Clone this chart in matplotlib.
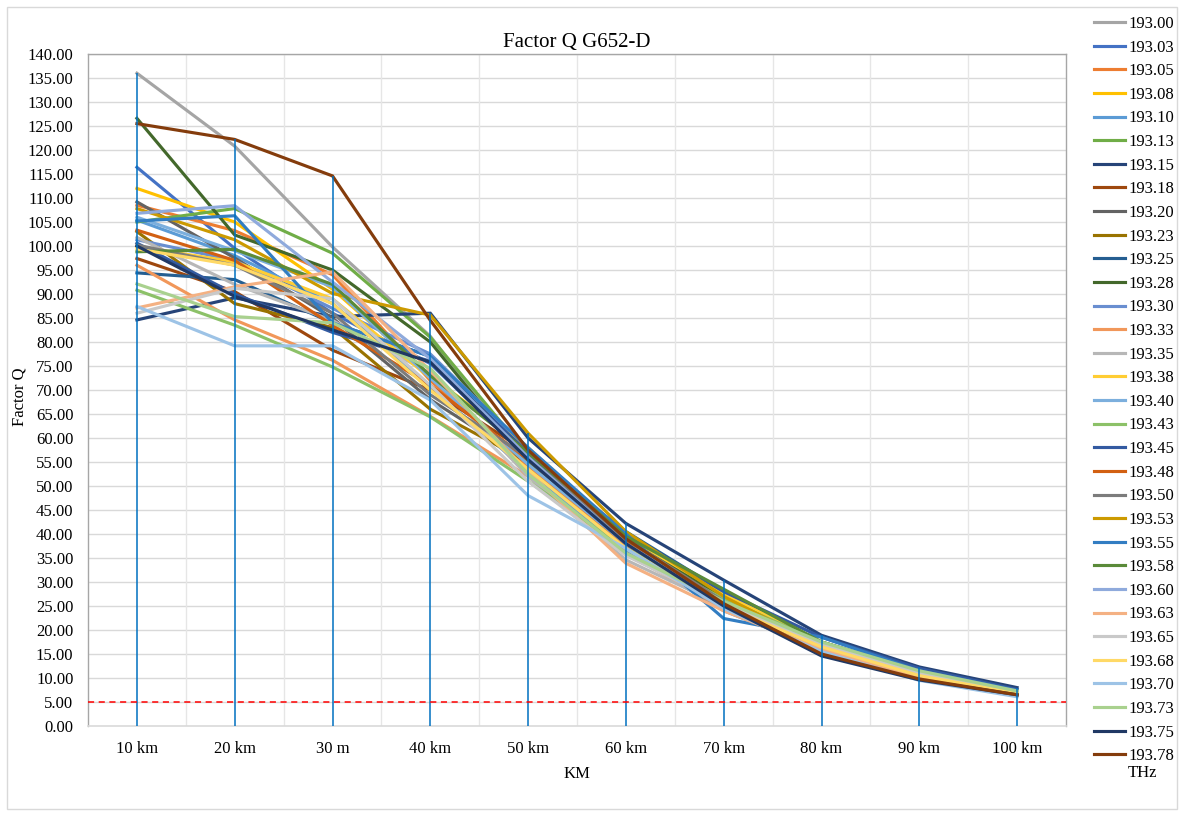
import numpy as np
import matplotlib
matplotlib.use('Agg')
import matplotlib.pyplot as plt
from matplotlib.patches import Rectangle

plt.rcParams['font.family'] = ['Liberation Serif', 'DejaVu Serif']

# Distances (tick labels as in the original, including the "30 m" typo)
distances = ['10 km', '20 km', '30 m', '40 km', '50 km', '60 km', '70 km', '80 km', '90 km', '100 km']

# Channel frequencies (THz)
freqs = ['193.00', '193.03', '193.05', '193.08', '193.10', '193.13', '193.15', '193.18',
         '193.20', '193.23', '193.25', '193.28', '193.30', '193.33', '193.35', '193.38',
         '193.40', '193.43', '193.45', '193.48', '193.50', '193.53', '193.55', '193.58',
         '193.60', '193.63', '193.65', '193.68', '193.70', '193.73', '193.75', '193.78']

colors = ['#A5A5A5', '#4472C4', '#ED7D31', '#FFC000', '#5B9BD5', '#70AD47', '#264478', '#9E480E',
          '#636363', '#997300', '#255E91', '#43682B', '#698ED0', '#F1975A', '#B7B7B7', '#FFCD33',
          '#7CAFDD', '#8CC168', '#335AA1', '#D26012', '#7C7C7C', '#CC9A00', '#327DC2', '#5A8A39',
          '#8FAADC', '#F4B183', '#C9C9C9', '#FFD966', '#9DC3E6', '#A9D18E', '#203864', '#843C0C']

# Factor Q per channel, one value per distance
q_19300 = [136.0, 120.8, 99.8, 81.2, 55.0, 36.5, 25.0, 16.5, 10.8, 7.0]
q_19303 = [116.4, 99.5, 86.0, 75.5, 56.0, 39.0, 26.0, 17.5, 11.5, 7.5]
q_19305 = [108.5, 103.2, 94.0, 72.0, 54.0, 37.5, 25.0, 16.0, 10.2, 6.8]
q_19308 = [112.0, 105.0, 91.0, 73.0, 57.5, 40.0, 27.0, 17.0, 10.5, 6.9]
q_19310 = [105.4, 98.0, 88.0, 70.5, 53.0, 36.5, 24.0, 16.0, 10.0, 6.6]
q_19313 = [105.0, 107.8, 98.5, 81.0, 56.5, 39.5, 28.0, 17.5, 11.0, 7.2]
q_19315 = [84.6, 89.2, 85.3, 86.0, 60.0, 42.2, 30.4, 18.9, 12.3, 8.0]
q_19318 = [97.4, 90.5, 78.3, 70.0, 57.0, 40.0, 26.0, 15.0, 9.8, 6.4]
q_19320 = [109.2, 97.5, 85.0, 68.0, 55.0, 38.0, 25.5, 16.0, 10.2, 6.6]
q_19323 = [103.0, 88.0, 83.0, 66.0, 55.0, 39.0, 26.5, 16.5, 10.5, 6.8]
q_19325 = [94.4, 93.0, 84.0, 77.0, 56.0, 40.5, 28.0, 17.0, 11.0, 7.1]
q_19328 = [126.6, 102.3, 95.0, 80.0, 55.0, 39.0, 27.0, 17.0, 11.0, 7.0]
q_19330 = [101.3, 97.0, 87.0, 77.5, 57.5, 38.5, 26.0, 17.0, 10.8, 7.0]
q_19333 = [96.0, 84.6, 76.2, 64.5, 52.0, 36.0, 24.5, 15.5, 10.0, 6.5]
q_19335 = [101.8, 92.0, 84.5, 73.5, 52.0, 34.6, 25.0, 16.0, 10.2, 6.6]
q_19338 = [99.9, 96.7, 89.0, 72.5, 58.0, 39.5, 27.5, 17.5, 11.0, 7.0]
q_19340 = [106.0, 99.0, 91.5, 72.5, 54.5, 38.0, 25.5, 16.5, 10.5, 6.8]
q_19343 = [90.8, 83.5, 74.8, 64.4, 51.0, 37.0, 26.5, 17.5, 11.5, 7.3]
q_19345 = [100.6, 90.0, 82.0, 76.0, 57.0, 40.0, 28.0, 18.5, 12.0, 7.6]
q_19348 = [103.3, 97.0, 83.5, 71.0, 55.5, 38.5, 25.5, 16.0, 10.3, 6.7]
q_19350 = [100.2, 96.0, 86.0, 69.0, 56.0, 39.0, 26.0, 16.5, 10.5, 6.8]
q_19353 = [107.8, 101.3, 90.1, 85.6, 61.0, 40.5, 27.0, 16.5, 10.5, 6.8]
q_19355 = [105.2, 106.3, 84.0, 77.0, 58.0, 40.0, 22.4, 18.5, 11.5, 7.4]
q_19358 = [98.8, 99.3, 92.0, 73.0, 57.0, 39.5, 28.5, 17.5, 11.2, 7.1]
q_19360 = [106.8, 108.4, 92.5, 76.5, 56.0, 38.0, 25.5, 16.5, 10.8, 7.0]
q_19363 = [87.1, 91.5, 94.6, 74.0, 53.0, 33.9, 24.0, 16.0, 10.0, 6.3]
q_19365 = [86.0, 91.2, 89.0, 71.0, 51.0, 35.5, 25.5, 17.0, 11.0, 7.2]
q_19368 = [99.4, 96.0, 88.0, 70.0, 53.5, 37.0, 25.0, 16.5, 10.5, 6.8]
q_19370 = [87.4, 79.2, 79.2, 67.9, 48.0, 37.0, 24.5, 15.5, 9.5, 6.1]
q_19373 = [92.1, 85.3, 84.0, 74.5, 52.5, 36.0, 26.0, 17.5, 11.5, 7.3]
q_19375 = [100.0, 89.5, 82.5, 75.8, 55.5, 38.0, 25.0, 14.6, 9.6, 6.5]
q_19378 = [125.5, 122.2, 114.6, 84.5, 57.5, 39.0, 25.5, 15.0, 9.8, 6.5]

series = [q_19300, q_19303, q_19305, q_19308, q_19310, q_19313, q_19315, q_19318,
          q_19320, q_19323, q_19325, q_19328, q_19330, q_19333, q_19335, q_19338,
          q_19340, q_19343, q_19345, q_19348, q_19350, q_19353, q_19355, q_19358,
          q_19360, q_19363, q_19365, q_19368, q_19370, q_19373, q_19375, q_19378]

threshold = 5.0

fig = plt.figure(figsize=(11.84, 8.16), dpi=100)
ax = fig.add_axes([88 / 1184, 1 - 726 / 816, (1066 - 88) / 1184, (726 - 54) / 816])

x = np.arange(len(distances))

# gridlines
for y in np.arange(5, 141, 5):
    ax.axhline(y, color='#D9D9D9', lw=1, zorder=0)
for b in np.arange(0.5, len(distances) - 0.5, 1):
    ax.axvline(b, color='#E6E6E6', lw=1, zorder=0)

# series
for vals, lab, c in zip(series, freqs, colors):
    ax.plot(x, vals, color=c, lw=2.25, label=lab, zorder=2, solid_joinstyle='miter')

# drop lines from the top value of each distance to the axis
tops = np.max(np.array(series), axis=0)
ax.vlines(x, 0, tops, color='#0070C0', lw=1.1, zorder=3)

# threshold line
ax.axhline(threshold, color='#FF0000', lw=1.1, ls=(0, (4, 3)), zorder=4)

ax.set_xlim(-0.5, len(distances) - 0.5)
ax.set_ylim(0, 140)
ax.set_yticks(np.arange(0, 141, 5))
ax.set_yticklabels(['%.2f' % v for v in np.arange(0, 141, 5)], fontsize=12)
ax.set_xticks(x)
ax.set_xticklabels(distances, fontsize=12)
ax.tick_params(axis='x', length=0, pad=10.5)
ax.tick_params(axis='y', length=0, pad=10.5)

for s in ['left', 'top', 'right']:
    ax.spines[s].set_color('#A6A6A6')
    ax.spines[s].set_linewidth(1)
ax.spines['bottom'].set_color('#D9D9D9')
ax.spines['bottom'].set_linewidth(1.2)

ax.set_title('Factor Q G652-D', fontsize=15, pad=5)
ax.set_xlabel('KM', fontsize=12, labelpad=6.5)
ax.set_ylabel('Factor Q', fontsize=12)
ax.yaxis.set_label_coords((28 - 88) / 978, 0.49)

fig.legend(loc='upper left', bbox_to_anchor=(1094 / 1184, 1 - 16 / 816), frameon=False,
           fontsize=12, handlelength=1.85, handletextpad=0.2, labelspacing=0.457,
           borderaxespad=0, borderpad=0)
fig.text(1128 / 1184, 1 - 773 / 816, 'THz', fontsize=12, ha='left', va='center')

# outer chart border
fig.patches.append(Rectangle((7 / 1184, 7 / 816), 1170 / 1184, 802 / 816, transform=fig.transFigure,
                             fill=False, edgecolor='#D9D9D9', lw=1))

fig.savefig('out.png', dpi=100)
